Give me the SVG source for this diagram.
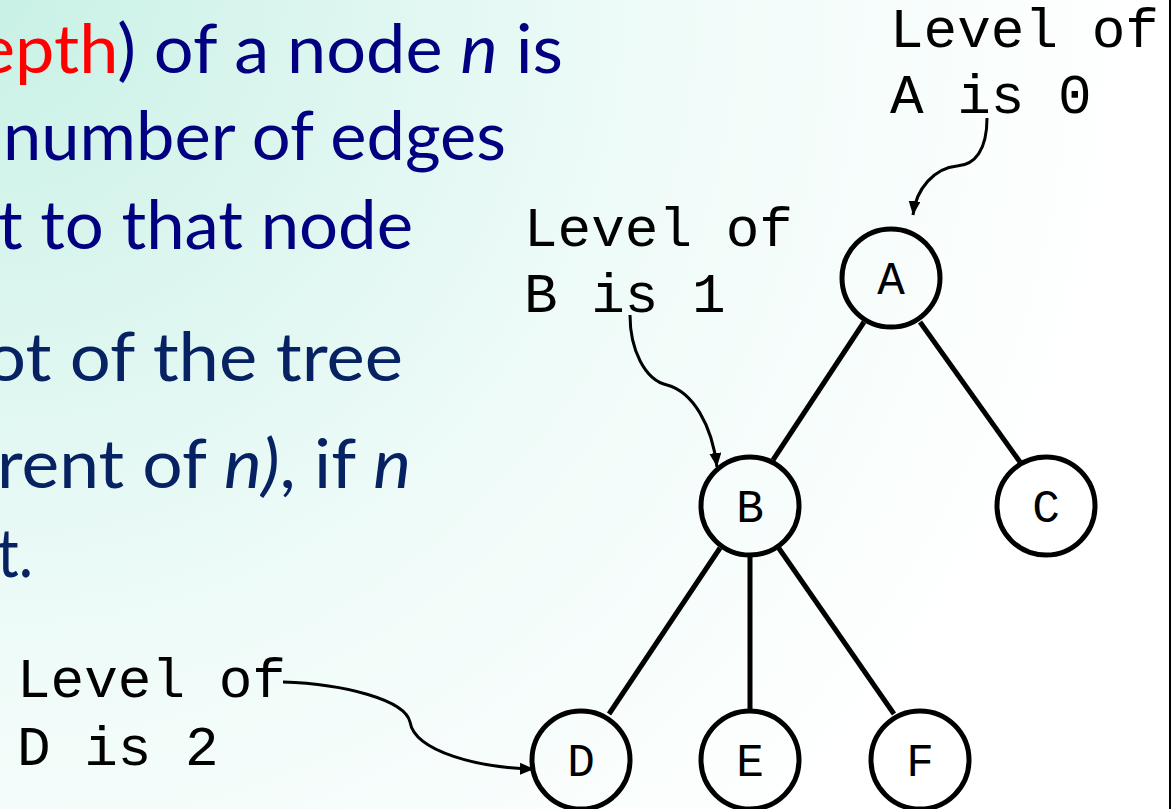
<svg xmlns="http://www.w3.org/2000/svg" width="1171" height="809" viewBox="0 0 1171 809">
  <defs>
    <radialGradient id="bg" cx="0" cy="0" r="1150" gradientUnits="userSpaceOnUse">
      <stop offset="0" stop-color="#c9f1e6"/>
      <stop offset="0.55" stop-color="#eefbf8"/>
      <stop offset="1" stop-color="#ffffff"/>
    </radialGradient>
    <marker id="arrow" viewBox="0 0 14 12" refX="14" refY="6" markerWidth="14" markerHeight="12" markerUnits="userSpaceOnUse" orient="auto">
      <path d="M0,0 L14,6 L0,12 Z" fill="#000"/>
    </marker>
  </defs>
  <style>
    .body { font-family: Lato, "Open Sans", sans-serif; font-size: 68px; }
    .navy { fill: #000080; }
    .dark { fill: #062263; }
    .red { fill: #ff0000; }
    .it { font-style: italic; }
    .mono { font-family: "Liberation Mono", "DejaVu Sans Mono", monospace; fill: #000; }
    .label { font-size: 56px; }
    .nodeText { font-size: 46px; text-anchor: middle; }
    .ring { fill: none; stroke: #000; stroke-width: 5; }
    .edge { stroke: #000; stroke-width: 5; fill: none; }
    .pointer { stroke: #000; stroke-width: 3; fill: none; }
  </style>

  <!-- slide background -->
  <rect x="0" y="0" width="1171" height="809" fill="url(#bg)"/>
  <rect x="1169" y="0" width="2" height="809" fill="#000"/>

  <!-- definition text -->
  <g id="definition" class="body">
    <text x="-22" y="73" textLength="585" lengthAdjust="spacingAndGlyphs" class="navy"><tspan class="red">epth</tspan>) of a node <tspan class="it">n</tspan> is</text>
    <text x="3" y="160" textLength="503" lengthAdjust="spacingAndGlyphs" class="navy">number of edges</text>
    <text x="-2" y="249" textLength="415" lengthAdjust="spacingAndGlyphs" class="navy">t to that node</text>
    <text x="-15" y="381" textLength="418" lengthAdjust="spacingAndGlyphs" class="dark">ot of the tree</text>
    <text x="-3" y="488" textLength="414" lengthAdjust="spacingAndGlyphs" class="dark">rent of <tspan class="it">n)</tspan>, if <tspan class="it">n</tspan></text>
    <text x="-3" y="577" textLength="36" lengthAdjust="spacingAndGlyphs" class="dark">t.</text>
  </g>

  <!-- level annotations -->
  <g id="label-a" class="mono label">
    <text x="890" y="47">Level of</text>
    <text x="890" y="113">A is 0</text>
  </g>
  <g id="label-b" class="mono label">
    <text x="524" y="246">Level of</text>
    <text x="524" y="312">B is 1</text>
  </g>
  <g id="label-d" class="mono label">
    <text x="17" y="697">Level of</text>
    <text x="17" y="765">D is 2</text>
  </g>

  <!-- tree edges and annotation pointers -->
  <g id="connectors">
    <line class="edge" x1="864" y1="322" x2="773" y2="460"/>
    <line class="edge" x1="920" y1="322" x2="1020" y2="462"/>
    <line class="edge" x1="720" y1="548" x2="609" y2="714"/>
    <line class="edge" x1="750" y1="555" x2="750" y2="711" stroke-width="6"/>
    <line class="edge" x1="778" y1="547" x2="894" y2="714"/>
    <path class="pointer" d="M987,118 C987,150 975,165 957,166 C935,168 916,188 913,215" marker-end="url(#arrow)"/>
    <path class="pointer" d="M630,315 C630,350 645,380 667,385 C693,392 712,425 717,467" marker-end="url(#arrow)"/>
    <path class="pointer" d="M283,682 C345,684 405,700 410,722 C415,752 480,768 534,769" marker-end="url(#arrow)"/>
  </g>

  <!-- tree nodes -->
  <g id="node-a">
    <ellipse class="ring" cx="891" cy="278" rx="49" ry="49"/>
    <text class="mono nodeText" x="891" y="294">A</text>
  </g>
  <g id="node-b">
    <ellipse class="ring" cx="750" cy="506" rx="49" ry="49"/>
    <text class="mono nodeText" x="750" y="522">B</text>
  </g>
  <g id="node-c">
    <ellipse class="ring" cx="1046" cy="506" rx="49" ry="49"/>
    <text class="mono nodeText" x="1046" y="522">C</text>
  </g>
  <g id="node-d">
    <ellipse class="ring" cx="581" cy="760" rx="49" ry="49"/>
    <text class="mono nodeText" x="581" y="776">D</text>
  </g>
  <g id="node-e">
    <ellipse class="ring" cx="750" cy="760" rx="49" ry="49"/>
    <text class="mono nodeText" x="750" y="776">E</text>
  </g>
  <g id="node-f">
    <ellipse class="ring" cx="920" cy="760" rx="49" ry="49"/>
    <text class="mono nodeText" x="920" y="776">F</text>
  </g>
</svg>
